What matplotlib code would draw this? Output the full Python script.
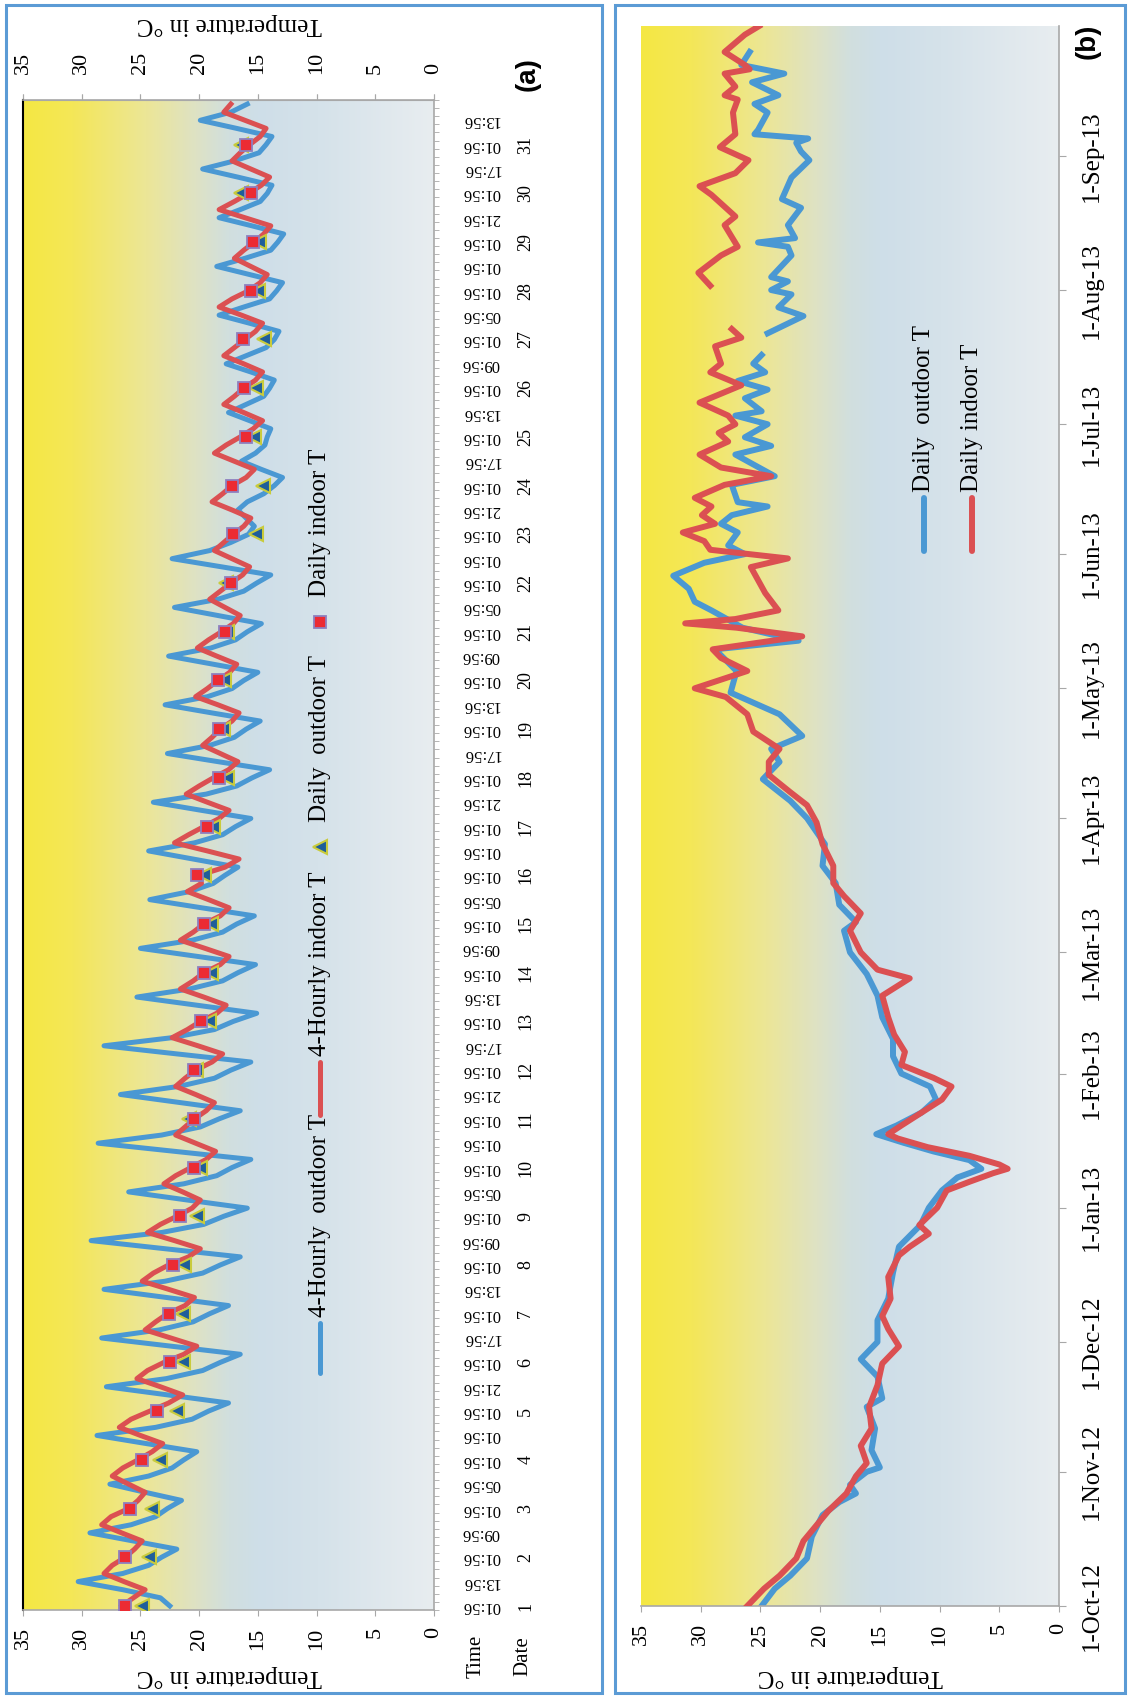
"""
Indoor / outdoor temperature charts, drawn in the rotated (portrait) layout.
"""
import numpy as np
import pandas as pd
import matplotlib
import matplotlib.pyplot as plt
import matplotlib.dates as mdates
from matplotlib.colors import LinearSegmentedColormap
from matplotlib.patches import Rectangle

matplotlib.use("Agg")
plt.rcParams["font.family"] = ["Liberation Serif", "DejaVu Serif"]

# ---------------- panel (a): one month, 4-hourly values ----------------
# one row per day: 01:56, 05:56, 09:56, 13:56, 17:56, 21:56
hourly_outdoor = [
    [22.5, 23.3, 26.5, 30.3, 26.5, 24.3],
    [23.2, 21.9, 25.6, 29.3, 25.8, 23.7],
    [22.7, 21.5, 24.6, 27.6, 24.3, 22.3],
    [21.3, 20.2, 24.5, 28.7, 23.7, 20.6],
    [19.2, 17.5, 22.7, 27.9, 22.8, 19.7],
    [18.2, 16.5, 22.4, 28.3, 23.4, 20.5],
    [19.1, 17.5, 22.8, 28.1, 22.9, 19.7],
    [18.2, 16.5, 22.9, 29.2, 23.2, 19.6],
    [17.9, 15.9, 21.0, 26.0, 21.3, 18.5],
    [17.2, 15.6, 22.1, 28.6, 23.2, 19.9],
    [18.3, 16.5, 21.6, 26.7, 21.7, 18.7],
    [17.3, 15.6, 21.9, 28.1, 22.3, 18.7],
    [17.1, 15.1, 20.2, 25.3, 20.8, 18.0],
    [16.7, 15.2, 20.1, 25.0, 20.6, 18.0],
    [16.8, 15.3, 19.8, 24.2, 20.8, 18.8],
    [17.8, 16.7, 20.5, 24.3, 20.4, 18.0],
    [16.9, 15.6, 19.8, 23.9, 19.4, 16.8],
    [15.5, 14.0, 18.4, 22.7, 19.1, 17.0],
    [16.0, 14.8, 18.9, 22.9, 19.3, 17.2],
    [16.2, 15.0, 18.8, 22.6, 19.0, 16.9],
    [15.9, 14.7, 18.4, 22.1, 18.4, 16.2],
    [15.1, 13.9, 18.1, 22.3, 19.1, 17.3],
    [15.8, 15.3, 16.0, 16.7, 15.9, 14.5],
    [13.6, 12.9, 14.7, 16.4, 15.2, 14.4],
    [14.2, 13.9, 15.7, 17.5, 16.0, 14.5],
    [14.0, 13.6, 15.6, 17.7, 16.0, 14.3],
    [13.6, 13.2, 15.7, 18.3, 16.2, 14.0],
    [13.4, 12.9, 15.7, 18.5, 16.1, 13.9],
    [13.3, 12.8, 15.5, 18.3, 16.5, 14.8],
    [14.2, 13.8, 16.7, 19.7, 17.0, 14.9],
    [14.3, 13.8, 16.8, 19.9, 17.3, 15.9],
]
hourly_indoor = [
    [26.6, 25.6, 24.6, 26.4, 28.1, 27.4],
    [26.3, 25.5, 24.85, 26.6, 28.3, 27.5],
    [26.0, 25.2, 24.6, 26.0, 27.4, 26.5],
    [25.2, 24.0, 23.1, 25.0, 26.8, 25.8],
    [24.2, 22.6, 21.4, 23.3, 25.3, 24.4],
    [23.0, 21.3, 20.2, 22.4, 24.6, 23.7],
    [22.7, 21.2, 20.4, 22.6, 24.85, 23.9],
    [22.6, 20.9, 19.9, 22.1, 24.4, 23.3],
    [21.9, 20.6, 19.9, 21.4, 23.0, 22.0],
    [20.7, 19.4, 18.6, 20.3, 22.0, 21.2],
    [20.4, 19.4, 18.7, 20.3, 22.0, 21.2],
    [20.3, 18.9, 18.0, 20.1, 22.3, 21.0],
    [19.9, 18.5, 17.7, 19.6, 21.6, 20.5],
    [19.6, 18.2, 17.45, 19.5, 21.6, 20.5],
    [19.6, 18.2, 17.45, 19.2, 21.0, 19.8],
    [20.0, 17.8, 16.6, 19.3, 22.1, 20.9],
    [19.6, 18.3, 17.45, 19.3, 21.1, 20.0],
    [18.8, 17.5, 16.7, 18.2, 19.7, 18.9],
    [18.2, 17.2, 16.6, 18.4, 20.3, 19.3],
    [18.4, 17.4, 16.8, 18.5, 20.15, 19.2],
    [18.1, 17.1, 16.5, 17.8, 19.1, 18.2],
    [17.3, 16.3, 15.7, 17.2, 18.7, 17.9],
    [17.1, 16.2, 15.6, 17.2, 18.9, 18.0],
    [17.2, 16.0, 15.3, 17.0, 18.7, 17.7],
    [16.5, 15.4, 14.6, 16.2, 17.9, 17.0],
    [16.2, 15.2, 14.6, 16.2, 17.9, 17.0],
    [16.1, 15.2, 14.6, 16.4, 18.3, 17.2],
    [15.8, 14.8, 14.2, 15.6, 17.0, 16.2],
    [15.3, 14.5, 13.9, 16.1, 18.3, 17.0],
    [15.8, 14.7, 14.0, 15.6, 17.2, 16.5],
    [15.7, 14.8, 14.3, 16.1, 17.9, 17.3],
]
daily_outdoor_a = [24.85, 24.3, 24.0, 23.3, 21.9, 21.4, 21.4, 21.3, 20.2, 19.9, 20.9,
                   20.3, 19.2, 19.0, 19.0, 19.6, 18.8, 17.6, 18.0, 17.9, 17.6, 17.7,
                   15.2, 14.6, 15.3, 15.2, 14.5, 15.0, 14.9, 16.4, 16.4]
daily_indoor_a = [26.3, 26.35, 25.9, 24.9, 23.6, 22.5, 22.6, 22.2, 21.6, 20.4, 20.4,
                  20.4, 19.8, 19.6, 19.6, 20.2, 19.35, 18.3, 18.3, 18.4, 17.8, 17.3,
                  17.1, 17.2, 16.0, 16.2, 16.3, 15.6, 15.4, 15.6, 16.0]
time_labels = [
    "01:56", "13:56", "01:56", "09:56", "01:56", "05:56", "01:56", "01:56",
    "01:56", "21:56", "01:56", "17:56", "01:56", "13:56", "01:56", "09:56",
    "01:56", "05:56", "01:56", "01:56", "01:56", "21:56", "01:56", "17:56",
    "01:56", "13:56", "01:56", "09:56", "01:56", "05:56", "01:56", "01:56",
    "01:56", "21:56", "01:56", "17:56", "01:56", "13:56", "01:56", "09:56",
    "01:56", "05:56", "01:56", "01:56", "01:56", "21:56", "01:56", "17:56",
    "01:56", "13:56", "01:56", "09:56", "01:56", "05:56", "01:56", "01:56",
    "01:56", "21:56", "01:56", "17:56", "01:56", "13:56",
]
day_labels = [str(d) for d in range(1, 32)]
temp_ticks = [0, 5, 10, 15, 20, 25, 30, 35]

# ---------------- panel (b): one year, daily values ----------------
# days after 1-Oct-2012, NaN marks a gap in the record
outdoor_days = [0, 4, 7, 11, 16, 21, 24, 26, 28, 31, 32, 36, 41, 46, 48, 53, 57, 61, 66,
                71, 77, 83, 88, 92, 96, 99, 101, 103, 105, 107, 109, 111, 114, 117, 120,
                123, 127, 131, 136, 141, 146, 151, 156, 158, 162, 167, 171, 176, 182, 186,
                191, 195, 198, 201, 206, 211, 216, 221, 223, 226, 230, 232, 235, 238, 241,
                243, 245, 248, 250, 252, 254, 255, 259, 261, 266, 268, 270, 273, 275, 276,
                279, 281, 283, 285, 287, 289, 291, 294, 298, 300, 303, 304, 306, 307, 312,
                314, 315, 316, 319, 323, 325, 330, 334, 336, 338, 339, 340, 341, 345, 347,
                349, 352, 354, 356, 359]
outdoor_vals = [24.9, 23.8, 22.5, 21.1, 20.7, 19.8, 18.4, 17.0, 17.5, 16.1, 15.0, 15.7,
                15.4, 16.1, 14.8, 15.2, 16.6, 15.2, 15.2, 14.3, 13.9, 13.4, 11.6, 10.9,
                9.8, 8.5, 6.5, 7.5, 10.5, 13.0, 15.3, 13.6, 11.5, 10.3, 10.8, 13.2, 13.9,
                13.9, 14.8, 15.2, 16.1, 17.5, 18.0, 17.0, 18.4, 18.7, 19.8, 19.6, 21.1,
                22.5, 24.8, 23.4, 24.1, 21.5, 23.4, 27.5, 27.0, 28.8, 21.8, 26.5, 29.1,
                30.5, 31.0, 32.3, 29.7, 26.3, 27.7, 26.9, 28.3, 27.4, 24.4, 26.9, 27.4,
                23.8, 27.1, 24.1, 26.3, 24.4, 27.1, 24.9, 26.3, 24.4, 26.9, 24.6, 25.6,
                24.9, np.nan, 24.4, 21.4, 23.5, 22.4, 24.1, 22.7, 24.1, 22.4, 22.7, 25.2,
                22.1, 22.7, 21.6, 23.2, 22.4, 20.9, 21.6, 22.0, 21.0, 25.5, 25.2, 24.4,
                25.5, 23.5, 25.7, 23.0, 26.6, 25.9]
indoor_days = [0, 4, 7, 11, 15, 18, 22, 26, 30, 33, 37, 41, 46, 51, 56, 60, 64, 67, 71,
               76, 81, 83, 86, 88, 92, 96, 98, 100, 101, 102, 104, 106, 108, 109, 111, 114,
               117, 120, 122, 125, 128, 132, 136, 141, 145, 147, 151, 156, 160, 164, 167,
               171, 176, 181, 185, 188, 192, 195, 198, 202, 206, 210, 212, 216, 219, 221,
               223, 224, 226, 227, 228, 230, 234, 237, 240, 242, 244, 246, 248, 250, 252,
               254, 256, 259, 261, 263, 266, 269, 271, 273, 275, 278, 282, 285, 287, 291,
               293, 295, 300, 305, 308, 312, 314, 319, 321, 326, 328, 331, 334, 337, 340,
               345, 348, 349, 351, 354, 355, 356, 359, 363, 365]
indoor_vals = [26.1, 24.7, 23.4, 22.0, 21.4, 20.5, 19.3, 17.8, 17.0, 16.1, 16.6, 15.7,
               15.9, 15.2, 14.8, 13.4, 14.3, 14.8, 14.1, 14.3, 13.4, 12.5, 10.9, 11.7,
               10.2, 9.4, 7.5, 5.5, 4.3, 5.0, 7.5, 11.0, 13.5, 14.3, 13.2, 11.5, 9.8, 9.0,
               10.5, 13.2, 12.9, 13.8, 14.3, 14.8, 12.5, 15.2, 16.6, 17.5, 16.6, 18.0,
               18.9, 18.9, 19.8, 20.3, 21.1, 22.5, 24.3, 24.3, 23.4, 25.6, 26.1, 27.9,
               30.5, 26.1, 28.3, 29.0, 24.0, 21.5, 27.0, 31.3, 27.1, 23.5, 24.6, 25.2,
               25.8, 22.7, 29.2, 29.7, 31.5, 28.8, 29.9, 29.1, 30.5, 28.0, 24.1, 28.3,
               30.1, 27.7, 28.5, 27.1, 27.7, 30.1, 26.6, 29.2, 28.3, 28.8, 26.6, 27.4,
               np.nan, 29.2, 30.2, 28.3, 26.9, 28.0, 27.1, 29.1, 30.1, 27.1, 26.0, 28.4,
               27.1, 27.3, 26.9, 28.0, 27.1, 28.0, 25.9, 26.3, 28.0, 26.3, 25.1]

# ---------------- styling ----------------
W, H = 1128, 1698
BLUE = "#4A98D3"
RED = "#DB5052"
FRAME = "#5B9BD5"
GREY = "#A8A8A8"
bg_cmap = LinearSegmentedColormap.from_list("bg", [
    (0.00, "#F5E843"), (0.12, "#F4E758"), (0.30, "#ECE697"), (0.42, "#DEE2C4"),
    (0.50, "#D1DFDE"), (0.57, "#CEDEE8"), (0.72, "#D5E2EA"), (1.00, "#E8EDF0")])


def fx(px):
    return px / W


def fy(py):
    return 1 - py / H


fig = plt.figure(figsize=(W / 100, H / 100), dpi=100)
fig.patch.set_facecolor("white")

for x0, x1 in [(6, 602), (615, 1125)]:
    fig.add_artist(Rectangle((fx(x0), fy(1693)), (x1 - x0) / W, (1693 - 5) / H,
                             transform=fig.transFigure, fill=False, ec=FRAME, lw=2.2))

# ---------------- panel (a) ----------------
ax = fig.add_axes([fx(23), fy(1610), (434 - 23) / W, (1610 - 100) / H])
n_days = len(hourly_outdoor)
t_hours = np.arange(n_days * 6) / 6.0
t_days = np.arange(n_days)
ylo, yhi = -1 / 12, n_days - 1 / 12
ax.imshow(np.linspace(0, 1, 256)[None, :], extent=(35, 0, ylo, yhi), aspect="auto",
          cmap=bg_cmap, interpolation="bicubic", zorder=0)

ax.plot(np.ravel(hourly_outdoor), t_hours, color=BLUE, lw=3.6, zorder=2)
ax.plot(np.ravel(hourly_indoor), t_hours, color=RED, lw=3.6, zorder=3)
ax.plot(daily_outdoor_a, t_days, ls="none", marker="<", ms=10, mfc="#1F5E9A",
        mec="#C9CB3C", mew=1.5, zorder=4)
ax.plot(daily_indoor_a, t_days, ls="none", marker="s", ms=9, mfc="#EC2B33",
        mec="#8E80BF", mew=1.3, zorder=5)

ax.set_xlim(35, 0)
ax.set_ylim(ylo, yhi)
ax.set_xticks(temp_ticks)
ax.tick_params(axis="x", direction="out", length=4.5, color=GREY, top=True,
               labelrotation=90, labelsize=16, pad=8)
top_axis = ax.secondary_xaxis("top")
top_axis.set_xticks(temp_ticks)
top_axis.tick_params(direction="out", length=4.5, color=GREY, labelrotation=90,
                     labelsize=16, pad=14)
top_axis.spines["top"].set_color(GREY)

ax2 = ax.twinx()
ax2.set_ylim(ylo, yhi)
ax2.set_yticks(t_days, day_labels)
ax2.tick_params(axis="y", length=0, pad=60, labelsize=13, labelrotation=90)
for lab in ax2.get_yticklabels():
    lab.set_va("center")
for sp in ax2.spines.values():
    sp.set_visible(False)

# twinx moves the host ticks to the left, so put the time axis back on the right
ax.yaxis.tick_right()
ax.set_yticks(np.arange(len(time_labels)) * 0.5, time_labels)
ax.set_yticks(np.arange(n_days * 6 + 1) / 6.0 - 1 / 12, minor=True)
ax.tick_params(axis="y", which="major", length=0, pad=20, labelsize=12, labelrotation=180,
               left=False, labelleft=False, right=True, labelright=True)
ax.tick_params(axis="y", which="minor", direction="out", length=3.5, color=GREY,
               right=True, left=False)
for lab in ax.get_yticklabels():
    lab.set_va("center")
for side in ("right", "top", "bottom"):
    ax.spines[side].set_color(GREY)
    ax.spines[side].set_linewidth(1.2)
ax.spines["left"].set_color("black")
ax.spines["left"].set_linewidth(1.5)

# legend of panel (a), laid out along the rotated axis
lx = 0.723
ax.plot([lx, lx], [0.157, 0.190], transform=ax.transAxes, color=BLUE, lw=3.6,
        solid_capstyle="round", zorder=6)
ax.plot([lx, lx], [0.328, 0.363], transform=ax.transAxes, color=RED, lw=3.6,
        solid_capstyle="round", zorder=6)
ax.plot([lx], [0.505], transform=ax.transAxes, marker="<", ms=10, mfc="#1F5E9A",
        mec="#C9CB3C", mew=1.5, zorder=6)
ax.plot([lx], [0.654], transform=ax.transAxes, marker="s", ms=9, mfc="#EC2B33",
        mec="#8E80BF", mew=1.3, zorder=6)
for ypos, txt in [(0.194, "4-Hourly  outdoor T"), (0.367, "4-Hourly indoor T"),
                  (0.522, "Daily  outdoor T"), (0.671, "Daily indoor T")]:
    ax.text(lx, ypos, txt, transform=ax.transAxes, rotation=90, ha="center", va="bottom",
            fontsize=18, zorder=6)

fig.text(fx(229), fy(1676), "Temperature in °C", rotation=180, ha="center", va="center",
         fontsize=18)
fig.text(fx(229), fy(24), "Temperature in °C", rotation=180, ha="center", va="center",
         fontsize=18)
fig.text(fx(476), fy(1656), "Time", rotation=90, ha="center", va="center", fontsize=15)
fig.text(fx(523), fy(1656), "Date", rotation=90, ha="center", va="center", fontsize=15)
fig.text(fx(528), fy(74), "(a)", rotation=90, ha="center", va="center", fontsize=20,
         fontweight="bold", family=["Liberation Sans", "DejaVu Sans"])

# ---------------- panel (b) ----------------
bx = fig.add_axes([fx(641), fy(1606), (1059 - 641) / W, (1606 - 26) / H])
start = np.datetime64("2012-10-01")
end = np.datetime64("2013-10-01")
out_dates = start + np.array(outdoor_days).astype("timedelta64[D]")
in_dates = start + np.array(indoor_days).astype("timedelta64[D]")
bx.imshow(np.linspace(0, 1, 256)[None, :],
          extent=(35, 0, mdates.date2num(start), mdates.date2num(end)), aspect="auto",
          cmap=bg_cmap, interpolation="bicubic", zorder=0)
bx.plot(outdoor_vals, out_dates, color=BLUE, lw=4.3, zorder=2)
bx.plot(indoor_vals, in_dates, color=RED, lw=4.3, zorder=3)

bx.set_xlim(35, 0)
bx.set_ylim(start, end)
bx.set_xticks(temp_ticks)
bx.tick_params(axis="x", direction="out", length=4.5, color=GREY, labelrotation=90,
               labelsize=16, pad=8)
bx.yaxis.tick_right()
bx.set_yticks(pd.date_range("2012-10-01", "2013-09-01", freq="MS"))
bx.yaxis.set_major_formatter(mdates.DateFormatter("%-d-%b-%y"))
bx.tick_params(axis="y", direction="out", length=5, color=GREY, labelrotation=90,
               labelsize=18, pad=11)
for lab in bx.get_yticklabels():
    lab.set_va("center")
bx.spines["left"].set_visible(False)
bx.spines["top"].set_visible(False)
for side in ("right", "bottom"):
    bx.spines[side].set_color(GREY)
    bx.spines[side].set_linewidth(1.2)

for lx_b, col, txt in [(0.676, BLUE, "Daily  outdoor T"), (0.791, RED, "Daily indoor T")]:
    bx.plot([lx_b, lx_b], [0.668, 0.701], transform=bx.transAxes, color=col, lw=4.3,
            solid_capstyle="round", zorder=6)
    bx.text(lx_b, 0.705, txt, transform=bx.transAxes, rotation=90, ha="center",
            va="bottom", fontsize=18, zorder=6)

fig.text(fx(850), fy(1676), "Temperature in °C", rotation=180, ha="center", va="center",
         fontsize=18)
fig.text(fx(1088), fy(41), "(b)", rotation=90, ha="center", va="center", fontsize=20,
         fontweight="bold", family=["Liberation Sans", "DejaVu Sans"])

fig.savefig("out.png", dpi=100)
plt.close(fig)
